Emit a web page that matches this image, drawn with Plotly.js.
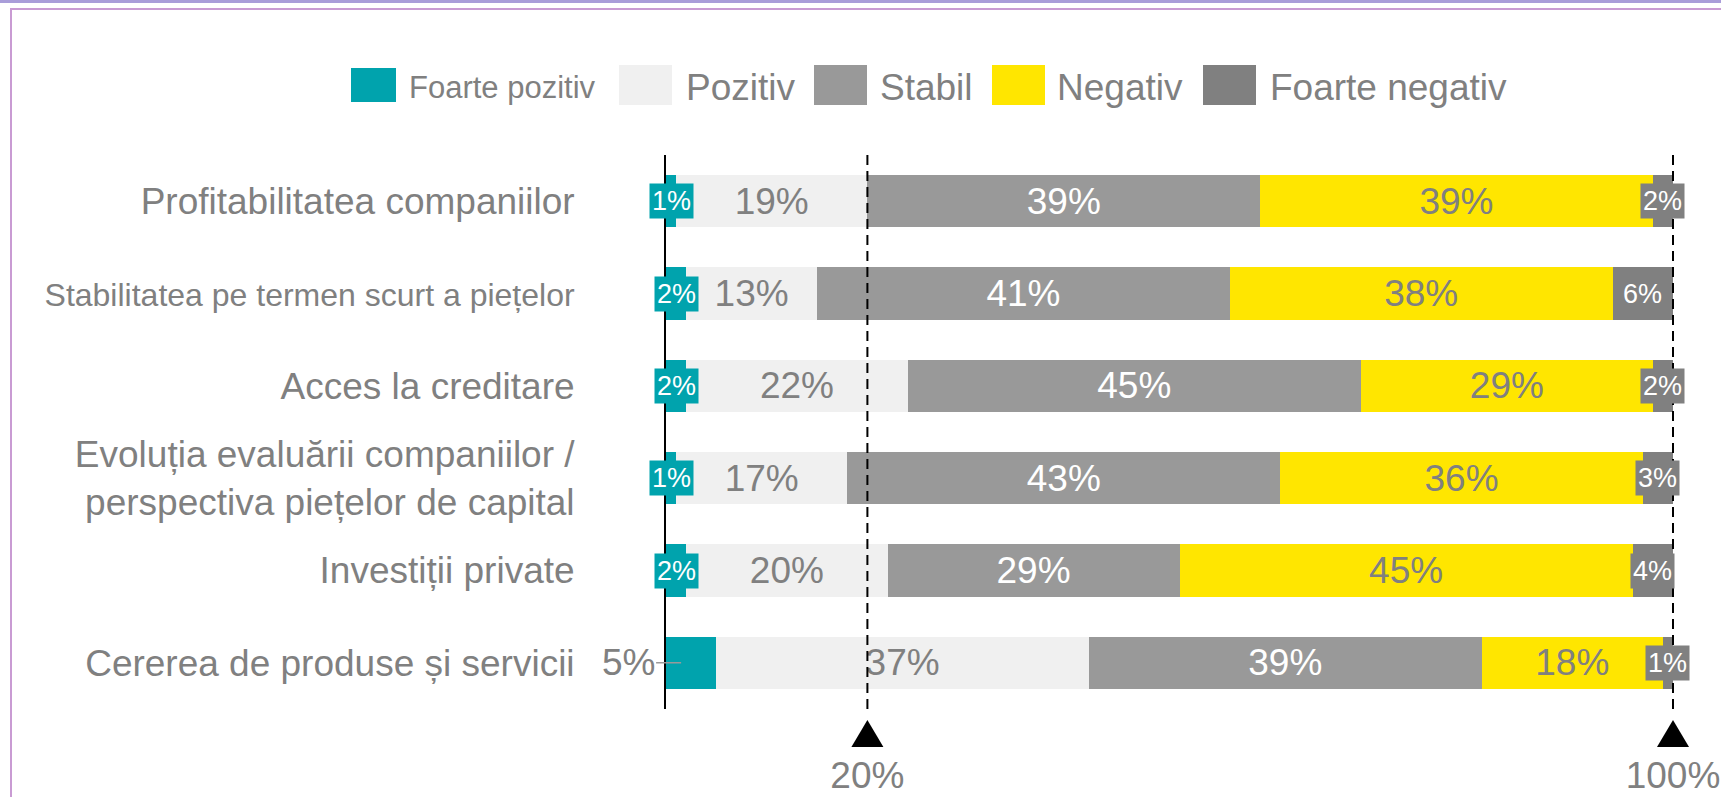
<!DOCTYPE html>
<html>
<head>
<meta charset="utf-8">
<script src="https://cdn.plot.ly/plotly-3.0.1.min.js"></script>
<style>
  html, body { margin: 0; padding: 0; background: #fff; }
  #wrap { position: relative; width: 1721px; height: 797px; overflow: hidden; }
  #topline { position: absolute; left: 0; top: 0; width: 1721px; height: 3px; background: #a99dd9; }
  #frame { position: absolute; left: 10px; top: 8px; width: 1760px; height: 840px;
           border-top: 2px solid #c99bd3; border-left: 2px solid #c99bd3; }
  #chart { position: absolute; left: 0; top: 0; width: 1721px; height: 797px; }
</style>
</head>
<body>
<div id="wrap">
  <div id="topline"></div>
  <div id="frame"></div>
  <div id="chart"></div>
</div>
<script>
// Perspective pe categorii - ponderea raspunsurilor (%)
const categories = [
    'Profitabilitatea companiilor',
    'Stabilitatea pe termen scurt a piețelor',
    'Acces la creditare',
    'Evoluția evaluării companiilor /<br>perspectiva piețelor de capital',
    'Investiții private',
    'Cererea de produse și servicii'
];
const seriesNames = ['Foarte pozitiv', 'Pozitiv', 'Stabil', 'Negativ', 'Foarte negativ'];
const foartePozitiv = [1, 2, 2, 1, 2, 5];
const pozitiv       = [19, 13, 22, 17, 20, 37];
const stabil        = [39, 41, 45, 43, 29, 39];
const negativ       = [39, 38, 29, 36, 45, 18];
const foarteNegativ = [2, 6, 2, 3, 4, 1];
const refTicks = [20, 100];

const FONT = '"Liberation Sans", Arial, sans-serif';
const GREY = '#808080';
const values = [foartePozitiv, pozitiv, stabil, negativ, foarteNegativ];
const colors = ['#00a3ad', '#f0f0f0', '#999999', '#ffe600', '#808080'];
const labelColors = ['#ffffff', GREY, '#ffffff', GREY, '#ffffff'];
const boxed = [true, false, false, false, true];   // small segments get a label box
const catSizes = [37, 32, 37, 37, 37, 37];
const xRange = [0, 100];

// plot area in pixels (for the hand-made legend and markers)
const M = {l: 666, r: 48, t: 155, b: 88};
const W = 1721 - M.l - M.r, H = 797 - M.t - M.b;
const px = x => (x - M.l) / W;
const py = y => (M.t + H - y) / H;
const xToPaper = v => (v - xRange[0]) / (xRange[1] - xRange[0]);

const traces = values.map((vals, i) => ({
    type: 'bar',
    orientation: 'h',
    name: seriesNames[i],
    x: vals,
    y: categories,
    marker: {color: colors[i], line: {width: 0}},
    text: boxed[i] ? undefined : vals.map(v => v + '%'),
    textposition: boxed[i] ? 'none' : 'inside',
    insidetextanchor: 'middle',
    textangle: 0,
    constraintext: 'none',
    textfont: {family: FONT, size: 37, color: labelColors[i]},
    hoverinfo: 'skip'
}));

const annotations = [];
categories.forEach((cat, r) => {
    let start = 0;
    values.forEach((vals, i) => {
        const v = vals[r];
        if (boxed[i]) {
            if (i === 0 && v >= 5) {
                // label outside, left of the axis, with a small leader line
                annotations.push({
                    x: v * 0.3, y: r, text: v + '%',
                    showarrow: true, arrowhead: 0, arrowwidth: 1.5, arrowcolor: '#999999',
                    ax: -53, ay: 0, standoff: 0,
                    font: {family: FONT, size: 37, color: GREY}
                });
            } else {
                annotations.push({
                    x: start + v / 2, y: r, text: v + '%', showarrow: false,
                    bgcolor: colors[i], borderpad: 2,
                    font: {family: FONT, size: 27, color: '#ffffff'}
                });
            }
        }
        start += v;
    });
});

// legend (drawn by hand, big swatches)
const legendItems = [
    {x0: 351, x1: 396, y0: 68, y1: 102, tx: 407, size: 31},
    {x0: 619, x1: 672, y0: 65, y1: 105, tx: 684, size: 37},
    {x0: 814, x1: 867, y0: 65, y1: 105, tx: 878, size: 37},
    {x0: 992, x1: 1045, y0: 65, y1: 105, tx: 1055, size: 37},
    {x0: 1203, x1: 1256, y0: 65, y1: 105, tx: 1268, size: 37}
];
const shapes = [];
legendItems.forEach((it, i) => {
    shapes.push({
        type: 'rect', xref: 'paper', yref: 'paper',
        x0: px(it.x0), x1: px(it.x1), y0: py(it.y1), y1: py(it.y0),
        fillcolor: colors[i], line: {width: 0}
    });
    annotations.push({
        xref: 'paper', yref: 'paper', x: px(it.tx), y: py(87),
        xanchor: 'left', yanchor: 'middle', showarrow: false,
        text: seriesNames[i], font: {family: FONT, size: it.size, color: GREY}
    });
});

// reference lines at 20% and 100%, with triangle markers below
refTicks.forEach(t => {
    const xp = xToPaper(t);
    shapes.push({
        type: 'line', xref: 'paper', yref: 'paper', x0: xp, x1: xp, y0: 0, y1: 1,
        line: {color: '#000000', width: 2, dash: '10px,6px'}, layer: 'above'
    });
    const hw = 16 / W;
    shapes.push({
        type: 'path', xref: 'paper', yref: 'paper',
        path: `M${xp - hw},${py(747)} L${xp + hw},${py(747)} L${xp},${py(720)} Z`,
        fillcolor: '#000000', line: {width: 0}
    });
});

const layout = {
    width: 1721,
    height: 797,
    margin: M,
    paper_bgcolor: 'rgba(0,0,0,0)',
    plot_bgcolor: 'rgba(0,0,0,0)',
    barmode: 'stack',
    bargap: 0.43,
    showlegend: false,
    font: {family: FONT, color: GREY},
    xaxis: {
        range: xRange,
        tickmode: 'array',
        tickvals: refTicks,
        ticktext: refTicks.map(v => v + '%'),
        tickfont: {family: FONT, size: 37, color: GREY},
        ticks: '',
        ticklabelstandoff: 41,
        showgrid: false, zeroline: false, showline: false
    },
    yaxis: {
        type: 'category',
        range: [categories.length - 0.5, -0.5],
        tickmode: 'array',
        tickvals: categories,
        ticktext: categories.map((c, i) => `<span style="font-size:${catSizes[i]}px">${c}</span>`),
        tickfont: {family: FONT, size: 37, color: GREY},
        ticks: '',
        ticklabelstandoff: 82,
        showline: true, linecolor: '#000000', linewidth: 2,
        showgrid: false, zeroline: false
    },
    shapes: shapes,
    annotations: annotations
};

Plotly.newPlot('chart', traces, layout, {staticPlot: true, displayModeBar: false});
</script>
</body>
</html>
